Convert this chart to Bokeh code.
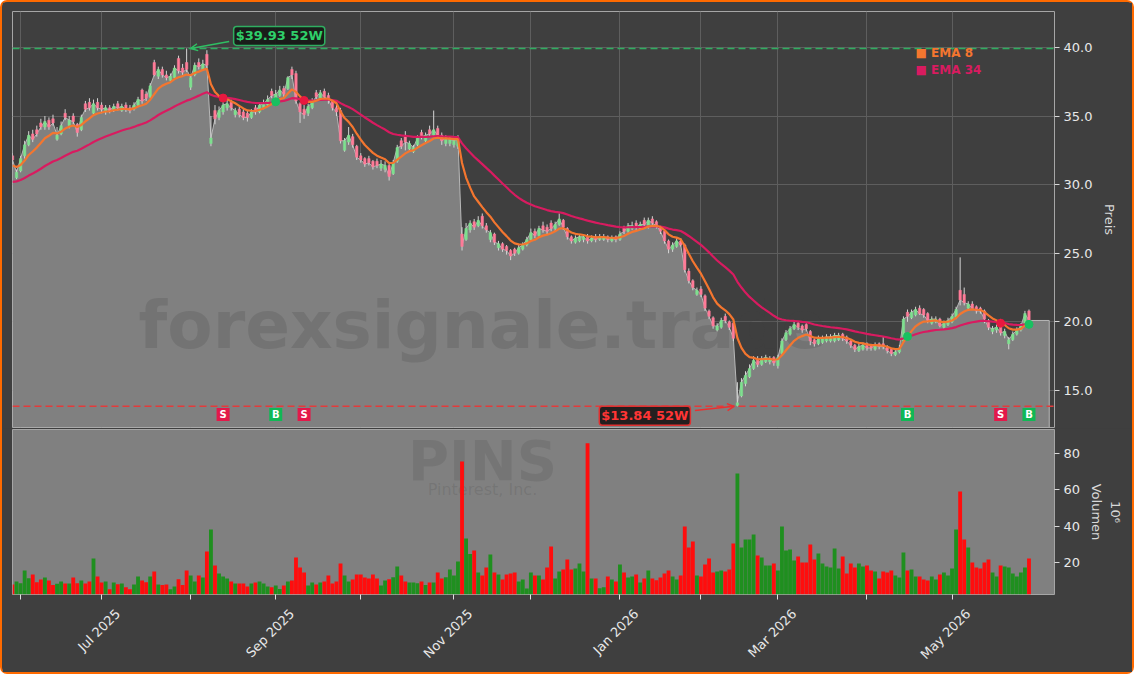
import math
import pandas as pd
from bokeh.plotting import figure
from bokeh.layouts import column
from bokeh.models import (Range1d, FixedTicker, NumeralTickFormatter, LinearAxis, Label,
                          Arrow, OpenHead, Span, Grid)
from bokeh.embed import file_html
from bokeh.resources import INLINE
from bokeh.core.properties import value

# ---------------- data ----------------
symbol = "PINS"
company = "Pinterest, Inc."
watermark = "forexsignale.trade"

holidays = ["2025-06-19", "2025-07-04", "2025-09-01", "2025-11-27", "2025-12-25",
            "2026-01-01", "2026-01-19", "2026-02-16", "2026-04-03", "2026-05-25"]
dates = pd.bdate_range("2025-05-29", "2026-05-29", freq="C", holidays=holidays)

opens = [
    32.1, 30.5, 31.0, 32.1, 32.9, 33.7, 34.0, 34.5, 34.2, 34.7,
    34.8, 33.3, 33.7, 35.2, 34.3, 35.0, 34.4, 34.0, 35.9, 36.0,
    35.2, 36.0, 35.8, 35.3, 35.6, 35.4, 35.9, 35.4, 35.8, 35.6,
    35.5, 35.8, 36.9, 36.6, 36.4, 38.9, 37.9, 38.4, 38.0, 37.6,
    37.8, 39.2, 38.5, 38.9, 37.1, 38.0, 38.9, 38.4, 39.5, 33.0,
    35.4, 34.9, 35.3, 35.6, 36.0, 35.1, 35.5, 35.3, 35.2, 34.9,
    35.6, 35.3, 35.6, 35.8, 36.8, 36.2, 36.5, 37.0, 37.0, 38.4,
    38.1, 35.9, 35.5, 35.2, 35.6, 36.7, 36.3, 36.8, 36.5, 36.1,
    35.6, 35.4, 32.5, 33.1, 33.5, 32.8, 32.1, 31.9, 31.9, 31.7,
    31.7, 31.2, 31.1, 31.4, 30.8, 31.7, 33.2, 33.5, 32.6, 32.4,
    32.9, 33.8, 33.2, 34.0, 33.6, 34.1, 33.6, 33.0, 33.0, 32.9,
    32.8, 26.4, 26.0, 26.7, 27.3, 27.0, 27.7, 27.0, 26.0, 26.4,
    25.4, 25.7, 25.5, 25.2, 25.3, 25.0, 25.3, 25.6, 26.0, 26.6,
    26.3, 27.0, 26.9, 27.2, 26.8, 27.1, 27.4, 26.8, 26.2, 25.8,
    25.9, 26.0, 26.2, 25.9, 26.2, 26.0, 26.0, 26.2, 25.9, 26.2,
    26.0, 26.9, 26.6, 26.8, 27.2, 26.8, 27.4, 27.0, 27.5, 27.3,
    26.9, 26.6, 25.9, 25.3, 25.5, 25.9, 25.6, 23.7, 23.0, 22.0,
    22.4, 21.9, 20.8, 20.3, 19.4, 19.6, 20.4, 20.0, 19.9, 13.9,
    14.6, 15.5, 16.0, 16.6, 17.3, 16.9, 17.1, 17.1, 17.4, 16.8,
    17.7, 18.7, 19.1, 19.5, 19.9, 19.7, 19.8, 19.3, 18.7, 18.4,
    18.5, 18.6, 18.6, 18.6, 18.7, 19.1, 18.9, 18.6, 18.3, 17.9,
    18.0, 18.4, 18.3, 18.0, 18.4, 18.4, 18.2, 18.0, 17.6, 17.8,
    18.6, 20.7, 20.3, 20.5, 21.0, 20.9, 20.6, 19.9, 20.0, 20.2,
    19.6, 19.8, 20.0, 20.3, 22.3, 22.0, 21.0, 21.3, 21.1, 21.0,
    20.8, 20.1, 19.3, 19.4, 20.1, 19.0, 18.4, 18.7, 19.1, 19.4,
    19.8, 20.8,
]
highs = [
    32.3, 31.1, 32.1, 33.2, 33.9, 34.0, 34.3, 34.8, 35.0, 34.9,
    35.1, 34.2, 34.6, 35.5, 35.0, 35.2, 34.5, 35.1, 36.1, 36.3,
    36.2, 36.3, 36.0, 35.8, 35.8, 35.9, 36.1, 35.9, 36.0, 35.8,
    36.0, 36.4, 37.0, 36.8, 37.4, 39.1, 38.6, 38.6, 38.3, 38.1,
    38.7, 39.4, 38.8, 39.93, 38.0, 38.9, 39.2, 39.1, 39.8, 35.0,
    35.8, 35.7, 36.0, 36.2, 36.2, 35.6, 35.7, 35.5, 35.4, 35.5,
    35.8, 36.0, 36.2, 36.5, 37.0, 36.9, 37.2, 37.2, 37.9, 38.6,
    38.3, 36.0, 35.8, 35.9, 36.3, 36.9, 36.9, 37.0, 36.7, 36.2,
    35.9, 35.6, 33.4, 34.2, 33.7, 32.9, 32.3, 32.0, 32.1, 31.8,
    31.9, 31.8, 31.7, 31.5, 31.8, 32.9, 33.4, 33.9, 33.2, 32.9,
    33.6, 34.0, 33.8, 34.3, 35.4, 34.3, 33.8, 33.6, 33.5, 33.5,
    33.6, 26.9, 27.2, 27.4, 27.5, 27.7, 27.9, 27.2, 26.7, 26.5,
    25.9, 25.8, 25.6, 25.3, 25.4, 25.6, 25.8, 26.2, 26.8, 26.8,
    27.0, 27.3, 27.1, 27.4, 27.3, 27.9, 27.5, 26.9, 26.3, 26.3,
    26.4, 26.4, 26.4, 26.3, 26.4, 26.4, 26.4, 26.3, 26.3, 26.3,
    26.6, 27.0, 27.2, 27.3, 27.4, 27.3, 27.6, 27.6, 27.7, 27.4,
    27.0, 26.7, 26.0, 25.8, 26.1, 26.1, 25.7, 23.9, 23.1, 22.5,
    22.6, 22.0, 20.9, 20.4, 19.9, 20.3, 20.6, 20.1, 20.0, 15.6,
    15.9, 16.4, 16.9, 17.5, 17.5, 17.5, 17.6, 17.5, 17.5, 17.6,
    18.8, 19.4, 19.7, 20.0, 20.0, 19.8, 19.9, 19.4, 18.8, 19.0,
    19.0, 19.1, 19.1, 19.2, 19.2, 19.2, 19.0, 18.7, 18.4, 18.4,
    18.5, 18.5, 18.4, 18.5, 18.5, 18.9, 18.3, 18.1, 18.0, 18.3,
    20.4, 20.9, 20.9, 21.1, 21.2, 21.0, 20.7, 20.4, 20.4, 20.3,
    20.1, 20.3, 20.6, 21.1, 24.7, 22.5, 21.5, 21.5, 21.2, 21.1,
    20.9, 20.2, 19.7, 19.8, 20.2, 19.5, 18.9, 19.3, 19.6, 19.9,
    20.8, 20.9,
]
lows = [
    31.5, 30.4, 30.9, 31.9, 32.8, 33.1, 33.5, 34.0, 34.0, 34.0,
    34.3, 33.2, 33.6, 34.7, 34.1, 34.4, 33.5, 33.9, 35.3, 35.4,
    35.1, 35.4, 35.2, 35.1, 35.2, 35.3, 35.4, 35.3, 35.3, 35.2,
    35.4, 35.7, 35.9, 36.1, 36.3, 37.9, 37.7, 37.8, 37.6, 37.5,
    37.7, 38.1, 38.0, 38.2, 36.9, 37.9, 38.4, 38.3, 38.5, 32.8,
    34.4, 34.7, 35.1, 35.4, 35.4, 34.9, 34.9, 34.7, 34.6, 34.8,
    35.1, 35.2, 35.5, 35.7, 36.3, 35.9, 36.4, 36.4, 36.9, 37.7,
    35.9, 34.5, 34.8, 35.0, 35.5, 36.2, 36.1, 36.2, 35.9, 35.4,
    35.0, 33.0, 32.4, 32.9, 32.7, 31.8, 31.6, 31.3, 31.4, 31.1,
    31.2, 31.0, 30.9, 30.3, 30.7, 31.6, 32.6, 32.5, 32.4, 32.3,
    32.8, 33.3, 33.1, 33.5, 33.5, 33.4, 32.9, 32.8, 32.8, 32.7,
    32.6, 25.2, 25.9, 26.5, 26.7, 26.9, 26.8, 26.5, 25.8, 25.6,
    25.2, 25.1, 24.9, 24.5, 24.8, 24.9, 25.2, 25.5, 25.9, 26.1,
    26.2, 26.5, 26.4, 26.6, 26.6, 27.0, 26.7, 26.0, 25.7, 25.7,
    25.8, 25.8, 25.7, 25.8, 25.8, 25.9, 25.9, 25.8, 25.8, 25.8,
    25.9, 26.4, 26.5, 26.7, 26.7, 26.7, 26.9, 26.8, 27.0, 26.8,
    26.4, 25.7, 25.0, 25.1, 25.4, 25.5, 23.6, 22.8, 22.3, 21.9,
    21.8, 20.8, 20.2, 19.5, 19.3, 19.5, 19.9, 19.4, 18.6, 13.84,
    14.5, 15.3, 15.9, 16.5, 16.7, 16.8, 17.0, 16.9, 16.8, 16.6,
    17.6, 18.6, 19.0, 19.4, 19.4, 19.2, 19.3, 18.3, 18.2, 18.3,
    18.4, 18.5, 18.5, 18.5, 18.6, 18.6, 18.4, 18.1, 17.8, 17.8,
    17.9, 17.9, 17.9, 17.9, 18.0, 18.0, 17.7, 17.5, 17.5, 17.7,
    18.5, 20.0, 20.2, 20.4, 20.5, 20.3, 19.9, 19.8, 19.9, 19.6,
    19.5, 19.7, 19.9, 20.2, 21.2, 21.2, 20.9, 20.9, 20.6, 20.6,
    19.9, 19.4, 19.1, 19.2, 19.0, 18.8, 18.0, 18.6, 19.0, 19.3,
    19.7, 20.0,
]
closes = [
    31.8, 30.9, 31.9, 32.9, 33.6, 33.3, 33.7, 34.2, 34.6, 34.2,
    34.5, 33.6, 34.3, 34.9, 34.7, 34.6, 33.8, 34.9, 35.5, 35.6,
    35.9, 35.6, 35.5, 35.6, 35.4, 35.7, 35.6, 35.7, 35.5, 35.4,
    35.8, 36.2, 36.1, 36.3, 37.2, 38.0, 38.4, 38.0, 37.8, 37.9,
    38.5, 38.3, 38.2, 38.4, 37.8, 38.7, 38.6, 38.8, 38.7, 33.4,
    34.8, 35.4, 35.8, 35.9, 35.6, 35.4, 35.1, 34.9, 34.9, 35.3,
    35.3, 35.8, 35.9, 36.2, 36.5, 36.6, 36.9, 36.6, 37.8, 38.0,
    36.1, 35.3, 35.1, 35.7, 36.0, 36.4, 36.7, 36.4, 36.2, 35.6,
    35.3, 33.2, 33.2, 33.6, 32.9, 32.0, 31.8, 31.5, 31.6, 31.3,
    31.4, 31.5, 31.4, 30.6, 31.6, 32.7, 32.8, 33.1, 33.0, 32.7,
    33.4, 33.5, 33.6, 33.7, 34.0, 33.6, 33.2, 33.4, 33.3, 33.2,
    33.3, 25.5, 26.8, 27.2, 26.9, 27.4, 27.0, 26.7, 26.5, 25.8,
    25.7, 25.3, 25.2, 24.8, 25.0, 25.4, 25.6, 26.0, 26.5, 26.3,
    26.8, 26.7, 26.6, 26.8, 27.1, 27.5, 26.9, 26.2, 25.9, 26.1,
    26.2, 26.2, 25.9, 26.1, 26.0, 26.2, 26.2, 26.0, 26.1, 26.0,
    26.4, 26.6, 27.0, 27.0, 26.9, 27.1, 27.1, 27.4, 27.2, 27.0,
    26.6, 25.9, 25.3, 25.6, 25.9, 25.6, 23.8, 23.0, 22.5, 22.3,
    22.0, 21.0, 20.4, 19.7, 19.7, 20.1, 20.1, 19.6, 18.8, 14.1,
    15.6, 16.1, 16.6, 17.2, 16.9, 17.3, 17.4, 17.3, 17.0, 17.4,
    18.6, 19.2, 19.5, 19.8, 19.6, 19.4, 19.5, 18.6, 18.4, 18.8,
    18.8, 18.9, 18.9, 19.0, 19.0, 18.8, 18.6, 18.3, 18.0, 18.2,
    18.3, 18.1, 18.1, 18.3, 18.2, 18.2, 17.9, 17.7, 17.8, 18.1,
    20.2, 20.4, 20.7, 20.9, 20.6, 20.5, 20.1, 20.2, 20.2, 19.7,
    19.9, 20.1, 20.4, 20.9, 21.6, 21.4, 21.3, 21.0, 20.8, 20.8,
    20.2, 19.6, 19.5, 19.6, 19.2, 19.3, 18.7, 19.1, 19.4, 19.7,
    20.6, 20.1,
]
volumes_m = [
    7.6, 9.3, 8.4, 15.4, 11.1, 13.2, 8.9, 10.4, 11.5, 9.8,
    7.3, 8.0, 9.3, 8.2, 8.2, 11.5, 8.4, 9.8, 8.2, 9.3,
    22.0, 12.1, 8.7, 9.3, 5.0, 8.7, 7.8, 8.2, 6.1, 5.0,
    7.6, 12.1, 9.8, 8.9, 12.1, 14.8, 7.6, 7.3, 7.6, 5.0,
    6.5, 10.6, 7.3, 15.4, 12.6, 9.3, 12.6, 11.5, 25.9, 38.1,
    18.2, 13.7, 12.1, 10.9, 9.3, 8.2, 8.2, 8.2, 6.5, 8.2,
    8.7, 9.3, 8.2, 6.5, 6.1, 7.1, 5.2, 7.1, 9.3, 9.8,
    22.6, 17.0, 14.3, 7.1, 8.7, 7.6, 8.7, 9.3, 12.6, 8.2,
    9.3, 19.3, 12.6, 9.3, 10.4, 13.2, 13.2, 11.5, 10.9, 13.2,
    10.9, 7.1, 9.8, 10.6, 11.7, 17.6, 12.6, 9.3, 8.7, 8.7,
    8.4, 9.3, 7.3, 8.7, 8.7, 14.3, 10.9, 11.7, 15.9, 12.6,
    20.4, 75.8, 33.1, 24.6, 26.5, 14.3, 12.6, 17.0, 24.2, 14.3,
    13.2, 10.4, 13.2, 13.7, 14.3, 9.3, 10.4, 5.4, 14.3, 12.6,
    12.6, 10.4, 17.0, 28.7, 10.9, 14.8, 15.9, 21.5, 15.9, 16.5,
    19.3, 14.8, 85.9, 10.9, 10.9, 5.6, 6.1, 12.1, 10.4, 9.3,
    18.7, 14.3, 11.5, 12.1, 13.2, 8.7, 10.9, 15.4, 10.9, 10.0,
    11.5, 13.7, 15.4, 12.1, 10.4, 12.6, 39.8, 28.1, 31.5, 12.6,
    12.1, 18.7, 22.0, 14.3, 14.8, 15.4, 14.8, 15.9, 30.3, 69.1,
    28.1, 32.6, 32.6, 35.3, 23.7, 22.6, 18.2, 18.2, 19.3, 15.4,
    39.8, 26.5, 27.0, 20.9, 23.1, 19.8, 19.8, 29.8, 21.5, 24.8,
    19.3, 17.6, 17.0, 27.6, 16.5, 23.1, 13.7, 19.3, 17.0, 19.3,
    17.6, 18.2, 15.4, 14.8, 10.9, 14.8, 14.3, 15.4, 12.6, 11.5,
    25.4, 15.4, 15.9, 12.1, 12.1, 10.4, 9.8, 12.1, 10.4, 13.2,
    14.3, 12.6, 16.5, 38.1, 59.2, 32.6, 28.1, 19.8, 17.0, 16.5,
    19.8, 21.5, 14.3, 12.1, 18.2, 17.6, 17.0, 13.7, 12.1, 14.3,
    17.0, 22.0,
]
ema8_start = 31.4
ema34_start = 30.2
signal_dates = ["2025-08-13", "2025-09-02", "2025-09-11", "2026-04-16", "2026-05-19", "2026-05-29"]
signal_kinds = ["S", "B", "S", "B", "S", "B"]
price_ticks = [15, 20, 25, 30, 35, 40]
volume_ticks = [20, 40, 60, 80]

# ---------------- derived ----------------
n = len(closes)
dates = dates[:n]
idx = list(range(n))
date_pos = {d.strftime("%Y-%m-%d"): i for i, d in enumerate(dates)}


def ema(series, start, span):
    a = 2.0 / (span + 1)
    out = [start]
    for c in series[1:]:
        out.append(out[-1] + a * (c - out[-1]))
    return out


ema8 = ema(closes, ema8_start, 8)
ema34 = ema(closes, ema34_start, 34)

up = [c >= o for o, c in zip(opens, closes)]
body_col = ["#7ee08f" if u else "#ff7b98" for u in up]
vol_col = ["#1f8f1f" if u else "#ff0d0d" for u in up]
body_top = [max(o, c) for o, c in zip(opens, closes)]
body_bot = [min(o, c) for o, c in zip(opens, closes)]

hi52 = max(highs)
lo52 = min(lows)
i_hi = highs.index(hi52)
i_lo = lows.index(lo52)

month_idx = [i for i in range(1, n) if dates[i].month != dates[i - 1].month]
label_months = [i for i in month_idx if dates[i].month % 2 == 1]

BG = "#3f3f3f"
FILL = "#808080"
TXT = "#e8e8e8"
ORANGE = "#f4762f"
CRIMSON = "#d81b60"

X0, X1 = 0, 257.3
Y0, Y1 = 12.3, 42.62
V0, V1 = 2.1, 93.5
W = 1130

# ---------------- price panel ----------------
p1 = figure(width=W, height=426, x_range=Range1d(X0, X1), y_range=Range1d(Y0, Y1),
            output_backend="svg", toolbar_location=None, x_axis_location=None,
            y_axis_location="right", min_border_left=10, min_border_right=78,
            min_border_top=9, min_border_bottom=1,
            background_fill_color=BG, border_fill_color=BG,
            outline_line_color="#a6a6a6", outline_line_width=1)
p1.xgrid.visible = False
p1.add_layout(Grid(dimension=0, ticker=FixedTicker(ticks=month_idx),
                   grid_line_color="#5e5e5e", grid_line_width=1))
p1.ygrid.ticker = FixedTicker(ticks=price_ticks)
p1.ygrid.grid_line_color = "#5e5e5e"

ax = p1.yaxis[0]
ax.ticker = FixedTicker(ticks=price_ticks)
ax.formatter = NumeralTickFormatter(format="0.0")
ax.axis_label = "Preis"
ax.axis_label_text_font_style = "normal"
ax.axis_label_text_font = "DejaVu Sans"
ax.axis_label_text_font_size = "13px"
ax.axis_label_text_color = "#d8d8d8"
ax.axis_label_standoff = 7
ax.major_label_text_font = "DejaVu Sans"
ax.major_label_text_font_size = "13px"
ax.major_label_text_color = TXT
ax.major_label_standoff = 4
ax.major_tick_line_color = "#d8d8d8"
ax.major_tick_out = 5
ax.major_tick_in = 0
ax.minor_tick_line_color = None
ax.axis_line_color = None

# area under close
ext = n - 1 + 5
area_x = idx + [ext, ext, X0]
area_y = closes + [closes[-1], Y0, Y0]
p1.patch(area_x, area_y, fill_color=FILL, line_color="#b8b8b8", line_width=1)

# watermark (background-coloured, only shows on the grey fill)
wm_x = X0 + 0.451 * (X1 - X0)
p1.text(x=[wm_x], y=[Y0 + 0.245 * (Y1 - Y0)], text=[watermark],
        text_font=value("DejaVu Sans"), text_font_style="bold", text_font_size="66px",
        text_color=BG, text_alpha=0.2, text_align="center", text_baseline="middle")

# 52-week lines
p1.add_layout(Span(location=hi52, dimension="width", line_color="#2fae60",
                   line_dash="7 4", line_width=1.5))
p1.add_layout(Span(location=lo52, dimension="width", line_color="#e33b3b",
                   line_dash="7 4", line_width=1.5))

# candles
p1.segment(x0=idx, y0=lows, x1=idx, y1=highs, line_color="#d4d4d4", line_width=1)
p1.vbar(x=idx, top=body_top, bottom=body_bot, width=0.6,
        fill_color=body_col, line_color=body_col, line_width=0.5)

# EMAs
p1.line(idx, ema34, line_color=CRIMSON, line_width=2.2)
p1.line(idx, ema8, line_color=ORANGE, line_width=2.2)

# signals
sig_i = [date_pos[d] for d in signal_dates]
sig_col = ["#e8193f" if k == "S" else "#18c060" for k in signal_kinds]
p1.scatter(x=sig_i, y=[ema8[i] for i in sig_i], size=8, color=sig_col)
marker_y = Y0 + 0.031 * (Y1 - Y0)
p1.scatter(x=sig_i, y=[marker_y] * len(sig_i), marker="square", size=13,
           fill_color=["#e3194a" if k == "S" else "#10b855" for k in signal_kinds],
           line_color=None)
p1.text(x=sig_i, y=[marker_y] * len(sig_i), text=signal_kinds, text_color="white",
        text_font=value("DejaVu Sans"), text_font_style="bold", text_font_size="10px",
        text_align="center", text_baseline="middle")

# 52W annotations
p1.add_layout(Arrow(end=OpenHead(size=7, line_color="#2fbf63", line_width=1.5),
                    x_start=i_hi + 10.5, y_start=hi52 + 0.5, x_end=i_hi + 1.0, y_end=hi52,
                    line_color="#2fbf63", line_width=1.5))
p1.add_layout(Label(x=i_hi, y=hi52, x_offset=47, y_offset=12.5,
                    text="${:.2f} 52W".format(hi52), text_color="#2fd06a",
                    text_font="DejaVu Sans", text_font_style="bold", text_font_size="13px",
                    text_align="left", text_baseline="middle",
                    background_fill_color="#161a16", background_fill_alpha=0.9,
                    border_line_color="#2fae60", border_line_width=1.5,
                    padding=2, border_radius=3))
p1.add_layout(Arrow(end=OpenHead(size=7, line_color="#ea3030", line_width=1.5),
                    x_start=i_lo - 10.5, y_start=lo52 - 0.3, x_end=i_lo - 0.8, y_end=lo52,
                    line_color="#ea3030", line_width=1.5))
p1.add_layout(Label(x=i_lo, y=lo52, x_offset=-47, y_offset=-9.5,
                    text="${:.2f} 52W".format(lo52), text_color="#ff3535",
                    text_font="DejaVu Sans", text_font_style="bold", text_font_size="13px",
                    text_align="right", text_baseline="middle",
                    background_fill_color="#1a1414", background_fill_alpha=0.9,
                    border_line_color="#e03030", border_line_width=1.5,
                    padding=2, border_radius=3))

# legend
p1.add_layout(Label(x=223.0, y=39.56, text="\u25a0 EMA 8", text_color=ORANGE,
                    text_font="DejaVu Sans", text_font_style="bold", text_font_size="12px",
                    text_baseline="middle"))
p1.add_layout(Label(x=223.0, y=38.32, text="\u25a0 EMA 34", text_color=CRIMSON,
                    text_font="DejaVu Sans", text_font_style="bold", text_font_size="12px",
                    text_baseline="middle"))

# ---------------- volume panel ----------------
p2 = figure(width=W, height=244, x_range=p1.x_range, y_range=Range1d(V0, V1),
            output_backend="svg", toolbar_location=None, y_axis_location="right",
            min_border_left=10, min_border_right=78, min_border_top=1, min_border_bottom=78,
            background_fill_color=FILL, border_fill_color=BG,
            outline_line_color="#a6a6a6", outline_line_width=1)
p2.xgrid.visible = False
p2.ygrid.visible = False

p2.text(x=[wm_x], y=[V0 + 0.812 * (V1 - V0)], text=[symbol],
        text_font=value("DejaVu Sans"), text_font_style="bold", text_font_size="56px",
        text_color=BG, text_alpha=0.16, text_align="center", text_baseline="middle")
p2.text(x=[wm_x], y=[V0 + 0.637 * (V1 - V0)], text=[company],
        text_font=value("DejaVu Sans"), text_font_size="16px",
        text_color=BG, text_alpha=0.16, text_align="center", text_baseline="middle")

p2.vbar(x=idx, top=volumes_m, bottom=0, width=0.95, fill_color=vol_col, line_color=None)

vax = p2.yaxis[0]
vax.ticker = FixedTicker(ticks=volume_ticks)
vax.axis_label = "Volumen"
vax.axis_label_text_font_style = "normal"
vax.axis_label_text_font = "DejaVu Sans"
vax.axis_label_text_font_size = "13px"
vax.axis_label_text_color = "#d8d8d8"
vax.axis_label_standoff = 6
vax.major_label_text_font = "DejaVu Sans"
vax.major_label_text_font_size = "13px"
vax.major_label_text_color = TXT
vax.major_label_standoff = 4
vax.major_tick_line_color = "#d8d8d8"
vax.major_tick_out = 5
vax.major_tick_in = 0
vax.minor_tick_line_color = None
vax.axis_line_color = None
exp_ax = LinearAxis(ticker=FixedTicker(ticks=[]), axis_label="10\u2076",
                    axis_label_text_font="DejaVu Sans", axis_label_text_font_size="13px",
                    axis_label_text_font_style="normal", axis_label_text_color="#d8d8d8",
                    axis_label_standoff=0, major_tick_line_color=None,
                    minor_tick_line_color=None, axis_line_color=None,
                    major_label_text_font_size="0px")
p2.add_layout(exp_ax, "right")

xax = p2.xaxis[0]
xax.ticker = FixedTicker(ticks=[i + 4 for i in label_months], minor_ticks=month_idx)
xax.major_label_overrides = {i + 4: dates[i].strftime("%b %Y") for i in label_months}
xax.major_label_orientation = math.pi / 4
xax.major_label_text_font = "DejaVu Sans"
xax.major_label_text_font_size = "13px"
xax.major_label_text_color = TXT
xax.major_label_standoff = 12
xax.major_tick_line_color = None
xax.major_tick_out = 0
xax.minor_tick_line_color = "#e0e0e0"
xax.minor_tick_out = 5
xax.minor_tick_in = 0
xax.axis_line_color = None

layout = column(p1, p2, spacing=0,
                styles={"border": "2px solid #ff6a00", "border-radius": "7px",
                        "background-color": BG})

open("out.html", "w").write(file_html(layout, INLINE))
